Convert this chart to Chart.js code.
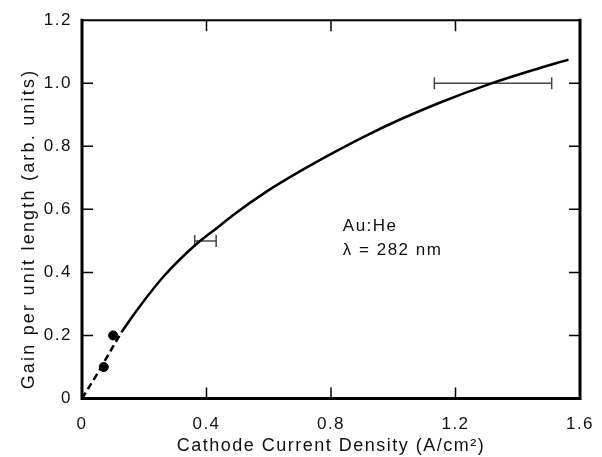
<!DOCTYPE html>
<html>
<head>
<meta charset="utf-8">
<script src="https://cdn.jsdelivr.net/npm/chart.js@4.4.1/dist/chart.umd.min.js"></script>
<style>
  html, body { margin: 0; padding: 0; background: #fff; }
  #wrap { width: 602px; height: 457px; }
</style>
</head>
<body>
<div id="wrap"><canvas id="gainChart" width="602" height="457"></canvas></div>
<script>
// fitted curve
const curveX = [0, 0.05, 0.1, 0.13, 0.177, 0.262, 0.364, 0.444, 0.487, 0.594, 0.701, 0.808, 0.915, 1.022, 1.151, 1.311, 1.45, 1.563];
const curveY = [0, 0.08, 0.165, 0.215, 0.281, 0.387, 0.487, 0.549, 0.583, 0.657, 0.721, 0.780, 0.835, 0.885, 0.939, 0.998, 1.042, 1.075];
const dashEnd = 3; // curve is dashed up to this index

// measured points
const measX = [0.07, 0.10];
const measY = [0.10, 0.20];

// horizontal error bars
const errLow = [0.362, 1.132];
const errHigh = [0.431, 1.509];
const errY = [0.5, 1.0];

const xTicks = [0, 0.4, 0.8, 1.2, 1.6];
const xTickLabels = ['0', '0.4', '0.8', '1.2', '1.6'];
const yTicks = [0, 0.2, 0.4, 0.6, 0.8, 1.0, 1.2];
const yTickLabels = ['0', '0.2', '0.4', '0.6', '0.8', '1.0', '1.2'];

const yTitle = 'Gain per unit length (arb. units)';
const noteLines = ['Au:He', 'λ = 282 nm'];

const FONT = '"Liberation Sans", Arial, Helvetica, sans-serif';

const toPts = (xs, ys) => xs.map((x, i) => ({ x: x, y: ys[i] }));
const curvePts = toPts(curveX, curveY);

const datasets = [
    {
        data: curvePts.slice(0, dashEnd + 1),
        showLine: true,
        borderColor: '#000',
        borderWidth: 2.5,
        borderDash: [7, 4],
        pointRadius: 0,
        cubicInterpolationMode: 'monotone',
        clip: false
    },
    {
        data: curvePts.slice(dashEnd),
        showLine: true,
        borderColor: '#000',
        borderWidth: 2.5,
        pointRadius: 0,
        cubicInterpolationMode: 'monotone',
        clip: false
    },
    {
        data: toPts(measX, measY),
        showLine: false,
        pointRadius: 4.5,
        pointBackgroundColor: '#000',
        pointBorderColor: '#000'
    }
];

errY.forEach((y, i) => {
    datasets.push({
        data: [{ x: errLow[i], y: y }, { x: errHigh[i], y: y }],
        showLine: true,
        borderColor: '#444',
        borderWidth: 1.5,
        pointStyle: 'line',
        rotation: 90,
        pointRadius: 6,
        pointBorderColor: '#444',
        pointBorderWidth: 1.5
    });
});

// frame, inward tick marks, y title and the annotation
const framePlugin = {
    id: 'frame',
    beforeDraw(chart) {
        // the original lettering is loosely tracked
        chart.ctx.letterSpacing = '1.5px';
    },
    afterDraw(chart) {
        const { ctx, chartArea: a, scales } = chart;
        const xs = scales.x, ys = scales.y;
        ctx.save();
        ctx.strokeStyle = '#000';
        ctx.lineCap = 'square';

        ctx.lineWidth = 3;
        ctx.beginPath();
        ctx.moveTo(a.left, a.top);
        ctx.lineTo(a.left, a.bottom);
        ctx.lineTo(a.right, a.bottom);
        ctx.lineTo(a.right, a.top);
        ctx.stroke();
        ctx.lineWidth = 2;
        ctx.beginPath();
        ctx.moveTo(a.left, a.top);
        ctx.lineTo(a.right, a.top);
        ctx.stroke();

        ctx.lineWidth = 1.5;
        ctx.lineCap = 'butt';
        const len = 11;
        ctx.beginPath();
        xTicks.slice(1, -1).forEach(v => {
            const px = xs.getPixelForValue(v);
            ctx.moveTo(px, a.bottom);
            ctx.lineTo(px, a.bottom - len);
            ctx.moveTo(px, a.top);
            ctx.lineTo(px, a.top + len);
        });
        yTicks.slice(1, -1).forEach(v => {
            const py = ys.getPixelForValue(v);
            ctx.moveTo(a.left, py);
            ctx.lineTo(a.left + len, py);
            ctx.moveTo(a.right, py);
            ctx.lineTo(a.right - len, py);
        });
        ctx.stroke();

        ctx.fillStyle = '#111';

        // y axis title sits a little below the middle in the original
        ctx.save();
        ctx.translate(33.5, 229);
        ctx.rotate(-Math.PI / 2);
        ctx.font = '18px ' + FONT;
        ctx.letterSpacing = '2.2px';
        ctx.textAlign = 'center';
        ctx.textBaseline = 'alphabetic';
        ctx.fillText(yTitle, 0, 0);
        ctx.restore();

        ctx.font = '17px ' + FONT;
        ctx.textAlign = 'left';
        ctx.textBaseline = 'alphabetic';
        const nx = xs.getPixelForValue(0.838);
        ctx.fillText(noteLines[0], nx, ys.getPixelForValue(0.53));
        ctx.fillText(noteLines[1], nx, ys.getPixelForValue(0.456));
        ctx.restore();
    }
};

new Chart(document.getElementById('gainChart'), {
    type: 'scatter',
    data: { datasets: datasets },
    options: {
        responsive: false,
        animation: false,
        devicePixelRatio: 1,
        layout: { padding: { left: 12, top: 20, right: 22, bottom: 0 } },
        plugins: {
            legend: { display: false },
            tooltip: { enabled: false }
        },
        scales: {
            x: {
                type: 'linear',
                min: 0,
                max: 1.6,
                afterBuildTicks: s => { s.ticks = xTicks.map(v => ({ value: v })); },
                afterFit: s => { s.height = 58.5; },
                grid: { display: false },
                border: { display: false },
                ticks: {
                    color: '#111',
                    font: { size: 17, family: FONT },
                    padding: 8,
                    maxRotation: 0,
                    autoSkip: false,
                    callback: v => xTickLabels[xTicks.indexOf(v)]
                },
                title: {
                    display: true,
                    text: 'Cathode Current Density (A/cm²)',
                    color: '#111',
                    font: { size: 18, family: FONT },
                    padding: { top: 0, bottom: 0 }
                }
            },
            y: {
                type: 'linear',
                min: 0,
                max: 1.2,
                afterBuildTicks: s => { s.ticks = yTicks.map(v => ({ value: v })); },
                afterFit: s => { s.width = 70; },
                grid: { display: false, drawTicks: false },
                border: { display: false },
                ticks: {
                    color: '#111',
                    font: { size: 17, family: FONT },
                    padding: 10,
                    autoSkip: false,
                    callback: v => yTickLabels[yTicks.indexOf(v)]
                },
                title: { display: false }
            }
        }
    },
    plugins: [framePlugin]
});
</script>
</body>
</html>
